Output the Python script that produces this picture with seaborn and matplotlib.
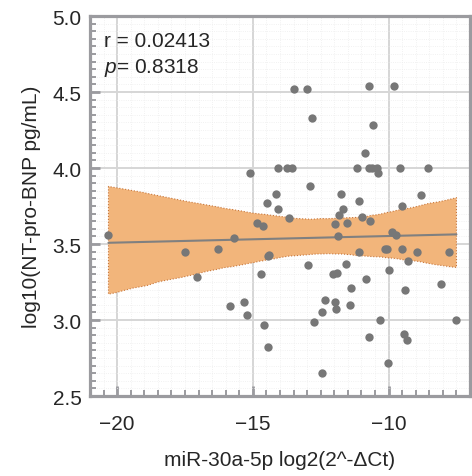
import numpy as np
import pandas as pd
import matplotlib
matplotlib.use('Agg')
import matplotlib.pyplot as plt
from matplotlib.ticker import MultipleLocator
import seaborn as sns

# datos
mir30a = [-13.49, -13.02, -10.71, -9.79, -12.82, -10.57, -10.88, -15.10, -14.06, -13.75,
          -13.57, -11.15, -10.71, -10.60, -10.44, -10.39, -9.57, -8.56, -12.91, -14.16,
          -11.76, -8.79, -14.49, -11.10, -14.06, -11.68, -9.51, -11.84, -10.97, -13.67,
          -11.54, -10.69, -14.85, -14.61, -11.98, -20.32, -15.71, -11.87, -9.89, -9.73,
          -17.51, -16.27, -14.40, -14.46, -11.10, -10.13, -10.06, -9.51, -8.94, -7.78,
          -9.27, -12.97, -11.58, -17.07, -14.69, -12.05, -11.90, -9.97, -10.83, -8.08,
          -11.40, -9.39, -15.85, -15.31, -12.36, -11.98, -11.41, -15.22, -12.44, -11.93,
          -12.76, -10.30, -7.50, -14.60, -9.45, -9.33, -10.72, -14.43, -10.04, -12.44]
ntprobnp = [4.52, 4.52, 4.54, 4.54, 4.33, 4.28, 4.10, 3.97, 4.00, 4.00,
            4.00, 4.00, 4.00, 4.00, 4.00, 3.97, 4.00, 4.00, 3.88, 3.83,
            3.83, 3.82, 3.77, 3.78, 3.73, 3.73, 3.75, 3.69, 3.68, 3.67,
            3.64, 3.65, 3.635, 3.62, 3.63, 3.56, 3.54, 3.55, 3.58, 3.56,
            3.45, 3.47, 3.43, 3.42, 3.45, 3.47, 3.47, 3.47, 3.45, 3.45,
            3.39, 3.36, 3.37, 3.28, 3.30, 3.30, 3.31, 3.33, 3.27, 3.24,
            3.21, 3.20, 3.09, 3.12, 3.13, 3.12, 3.10, 3.03, 3.05, 3.07,
            2.99, 3.00, 3.00, 2.965, 2.91, 2.87, 2.89, 2.82, 2.72, 2.65]
r_text = 'r = 0.02413'
p_text = r'$p$= 0.8318'

df = pd.DataFrame({'mir': mir30a, 'bnp': ntprobnp})

sns.set_style('white')
plt.rcParams['font.family'] = ['Liberation Sans', 'DejaVu Sans']
plt.rcParams['mathtext.fontset'] = 'custom'
plt.rcParams['mathtext.it'] = 'Liberation Sans:italic'
plt.rcParams['mathtext.rm'] = 'Liberation Sans'

gris = '#9b9b9f'

fig = plt.figure(figsize=(4.72, 4.77), dpi=100)
ax = fig.add_axes([0.1907, 0.1677, 0.8051, 0.7966])

sns.regplot(data=df, x='mir', y='bnp', ax=ax, ci=98, n_boot=2000, seed=3,
            scatter_kws={'s': 36, 'color': '#777777', 'alpha': 1, 'linewidths': 0, 'zorder': 3},
            line_kws={'color': '#808080', 'lw': 1.5, 'zorder': 2})

# banda de confianza en naranja
for coll in ax.collections[1:]:
    coll.set_facecolor('#f2b57b')
    coll.set_alpha(1)
    coll.set_edgecolor('#c8763a')
    coll.set_linestyle(':')
    coll.set_linewidth(0.8)
    coll.set_zorder(1.5)

ax.set_xlim(-21, -7)
ax.set_ylim(2.5, 5.0)
ax.xaxis.set_major_locator(MultipleLocator(5))
ax.xaxis.set_minor_locator(MultipleLocator(0.5))
ax.yaxis.set_major_locator(MultipleLocator(0.5))
ax.yaxis.set_minor_locator(MultipleLocator(0.05))
ax.yaxis.set_major_formatter(matplotlib.ticker.FormatStrFormatter('%.1f'))

ax.set_axisbelow(True)
ax.grid(which='major', color='#d6d6d6', lw=1.4, ls='-')
ax.grid(which='minor', color='#ededed', lw=0.6, ls=':')

for s in ax.spines.values():
    s.set_color(gris)
    s.set_linewidth(2.3)

ax.tick_params(which='major', direction='in', length=7.5, width=2.0, color=gris,
               labelsize=15, pad=6, bottom=True, left=True, top=False, right=False)
ax.tick_params(which='minor', direction='in', length=4.3, width=1.4, color=gris,
               bottom=True, left=True, top=False, right=False)
ax.tick_params(axis='x', which='major', pad=13)

ax.set_xlabel('miR-30a-5p log2(2^-ΔCt)', fontsize=15, labelpad=12)
ax.set_ylabel('log10(NT-pro-BNP pg/mL)', fontsize=15, labelpad=8)

ax.text(0.036, 0.935, r_text, transform=ax.transAxes, fontsize=15, va='center')
ax.text(0.036, 0.865, p_text, transform=ax.transAxes, fontsize=15, va='center')

plt.savefig('out.png', dpi=100)
plt.close()
